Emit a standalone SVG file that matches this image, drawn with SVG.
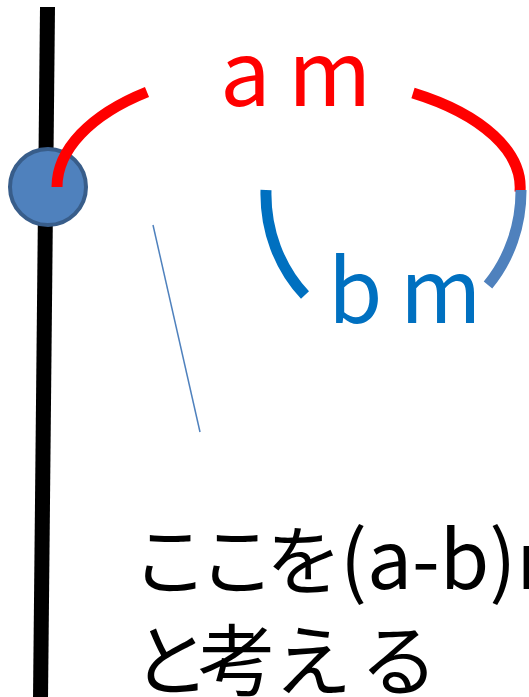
<svg xmlns="http://www.w3.org/2000/svg" width="529" height="697" viewBox="0 0 529 697">
<style>
.txt{font-family:"Noto Sans CJK JP","Noto Sans",sans-serif;}
.red{fill:none;stroke:#FF0000;stroke-width:11;}
.blue{fill:none;stroke:#0070C0;stroke-width:11;}
.blue2{fill:none;stroke:#4F81BD;stroke-width:11;}
</style>
<rect width="529" height="697" fill="#FFFFFF"/>
<g id="pole">
<line x1="47.5" y1="7" x2="40.5" y2="700" stroke="#000000" stroke-width="15"/>
</g>
<g id="ball">
<circle cx="48" cy="187" r="38" fill="#4F81BD" stroke="#385D8A" stroke-width="4"/>
</g>
<g id="connectors">
<path class="red" d="M57 187 A231 120 0 0 1 147 92"/>
<path class="red" d="M413 93 A231 112 0 0 1 520 192"/>
<path class="blue" d="M266 190 A127 140 0 0 0 305 295"/>
<path class="blue2" d="M521 190 A127 140 0 0 1 488 285"/>
<line x1="153" y1="225" x2="200" y2="432" stroke="#4F81BD" stroke-width="1.5"/>
</g>
<g id="label-am">
<text class="txt" x="220 262 288" y="106" font-size="90" fill="#FF0000">a m</text>
</g>
<g id="label-bm">
<text class="txt" x="328 382 400" y="323" font-size="88" fill="#0070C0">b m</text>
</g>
<g id="label-note">
<text class="txt" y="589" font-size="76" fill="#000000"><tspan x="132 199 266">ここを</tspan><tspan x="340" font-size="80">(a-b)m</tspan></text>
<text class="txt" x="132 198 274 360" y="690" font-size="78" fill="#000000">と考える</text>
</g>
</svg>
